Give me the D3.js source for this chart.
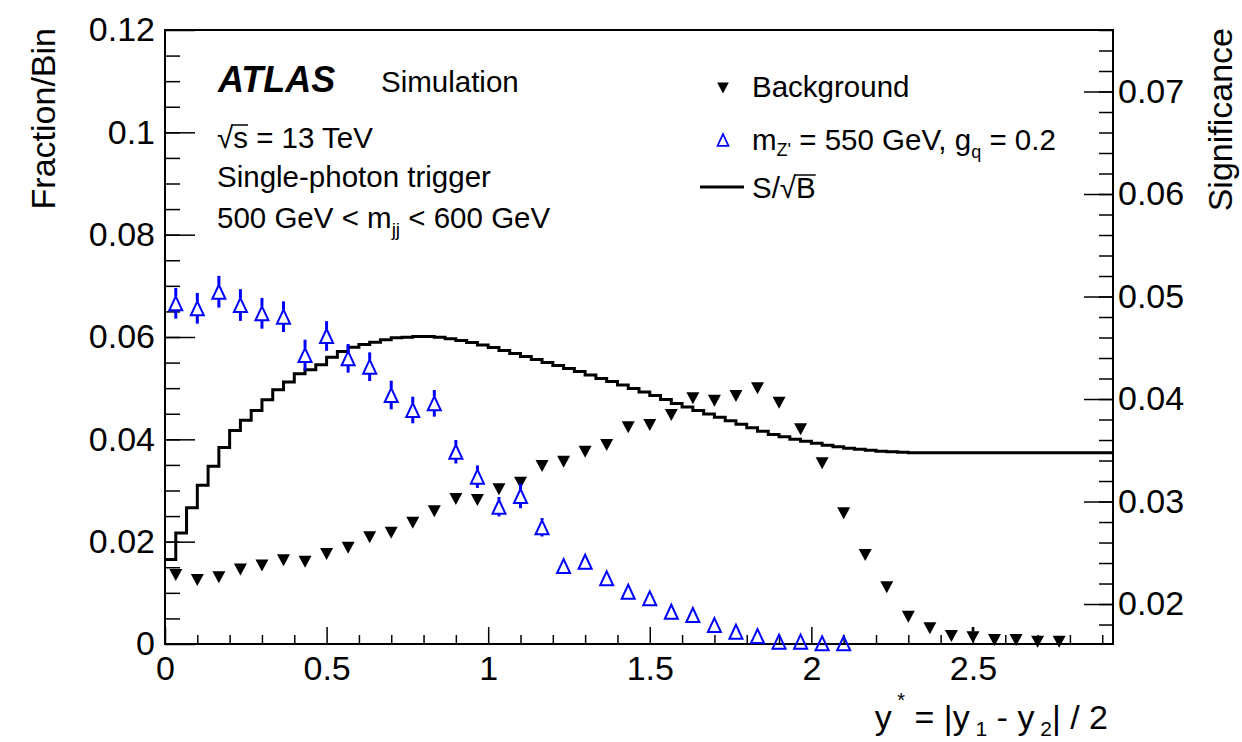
<!DOCTYPE html>
<html>
<head>
<meta charset="utf-8">
<script src="https://cdn.jsdelivr.net/npm/d3@7"></script>
<style>
  body { margin: 0; background: #fff; }
  svg { display: block; font-family: "Liberation Sans", Arial, Helvetica, sans-serif; }
</style>
</head>
<body>
<svg id="chart" width="1242" height="742"></svg>
<script>
// bin width of the markers (44 bins of 1/15 over 0 .. 2.933)
const binW = 1 / 15;
const nBins = 44;
// S/sqrt(B) histogram uses finer bins
const ssbBinW = 1 / 30;

// background fraction per bin (filled down triangles)
const bkgVals = [
  0.01349, 0.01251, 0.01303, 0.01456, 0.01534, 0.01636, 0.01609, 0.01759, 0.0188, 0.02085,
  0.02175, 0.02369, 0.02594, 0.02834, 0.02814, 0.03023, 0.03153, 0.03479, 0.03563, 0.03758,
  0.03889, 0.04235, 0.0428, 0.04476, 0.04802, 0.04755, 0.04847, 0.04997, 0.04716, 0.04196,
  0.03531, 0.02554, 0.01739, 0.01108, 0.00534, 0.00307, 0.00156, 0.00131, 0.00078, 0.00078,
  0.00045, 0.00045
];
const bkgErr = [
  0.0003, 0.0003, 0.0003, 0.0003, 0.0003, 0.0003, 0.0003, 0.0003, 0.0003, 0.0003,
  0.0003, 0.0003, 0.0003, 0.0003, 0.0003, 0.0003, 0.0003, 0.0003, 0.0003, 0.0003,
  0.0003, 0.0003, 0.0003, 0.0003, 0.0003, 0.0003, 0.0003, 0.0003, 0.0003, 0.0003,
  0.0003, 0.0003, 0.0003, 0.0003, 0.0003, 0.0003, 0.0003, 0.002, 0.0003, 0.0003,
  0.0003, 0.0003
];

// signal m_Z' = 550 GeV (open blue up triangles)
const sigVals = [
  0.06659, 0.06561, 0.06885, 0.06625, 0.06463, 0.06397, 0.05648, 0.0602, 0.05584, 0.0542,
  0.04866, 0.04573, 0.04704, 0.03758, 0.0327, 0.02683, 0.02893, 0.02281, 0.01524, 0.01608,
  0.01284, 0.01022, 0.00893, 0.00631, 0.00567, 0.00371, 0.0024, 0.00156, 0.00045, 0.00045,
  0.00014, 0.00014
];
const sigErr = [
  0.003, 0.003, 0.0031, 0.0031, 0.003, 0.003, 0.003, 0.0029, 0.0028, 0.0028,
  0.0028, 0.0026, 0.0026, 0.0023, 0.0022, 0.0019, 0.0024, 0.0018, 0.0009, 0.0009,
  0.0007, 0.0006, 0.0006, 0.0005, 0.0005, 0.0004, 0.0003, 0.0003, 0.0002, 0.0002,
  0.0001, 0.0001
];

// S/sqrt(B) significance, right axis, 88 bins
const ssbVals = [
  0.02435, 0.02694, 0.02938, 0.03159, 0.03344, 0.03526, 0.03694, 0.03792, 0.03889, 0.03993,
  0.04091, 0.04165, 0.04246, 0.04285, 0.04334, 0.04408, 0.04464, 0.04505, 0.04532, 0.04554,
  0.04577, 0.04597, 0.04603, 0.0461, 0.0461, 0.04603, 0.04587, 0.04571,
  0.04551, 0.04527, 0.04502, 0.04473, 0.04444, 0.04415, 0.04386, 0.04356, 0.04327, 0.04298,
  0.04269, 0.04235, 0.04201, 0.04171, 0.04137, 0.04103, 0.04069, 0.04035, 0.03996, 0.03957,
  0.03923, 0.03889, 0.03855, 0.03821, 0.03787, 0.03753, 0.03719, 0.03685, 0.03655, 0.03631,
  0.03607, 0.03587, 0.03568, 0.03548, 0.03534, 0.03519, 0.03509, 0.035, 0.0349, 0.03485, 0.0348,
  0.03477, 0.03477, 0.03477, 0.03477, 0.03477, 0.03477, 0.03477, 0.03477, 0.03477, 0.03477,
  0.03477, 0.03477, 0.03477, 0.03477, 0.03477, 0.03477, 0.03477, 0.03477, 0.03477
];

// axis ticks
const xMajor = [0, 0.5, 1, 1.5, 2, 2.5];
const xLabels = ["0", "0.5", "1", "1.5", "2", "2.5"];
const yLMajor = [0, 0.02, 0.04, 0.06, 0.08, 0.1, 0.12];
const yLLabels = ["0", "0.02", "0.04", "0.06", "0.08", "0.1", "0.12"];
const yRMajor = [0.02, 0.03, 0.04, 0.05, 0.06, 0.07];
const yRLabels = ["0.02", "0.03", "0.04", "0.05", "0.06", "0.07"];

const padL = 165, padR = 1113, padT = 30, padB = 644;
const svg = d3.select("#chart");

const x = d3.scaleLinear().domain([0, nBins * binW]).range([padL, padR]);
const yL = d3.scaleLinear().domain([0, 0.12]).range([padB, padT]);
const yR = d3.scaleLinear().domain([0.0161, 0.076]).range([padB, padT]);

const tickFont = 34;

// --- axes (ticks point inward) ---
function styleAxis(g) {
  g.select(".domain").remove();
  g.selectAll("line").attr("stroke", "#000").attr("stroke-width", 1.5);
  g.selectAll("text").attr("font-size", tickFont).attr("fill", "#000")
    .attr("font-family", "Liberation Sans, Arial, sans-serif");
}

// x axis
svg.append("g").attr("transform", `translate(0,${padB})`)
  .call(d3.axisBottom(x).tickValues(d3.range(0.1, 2.95, 0.1).filter(v => Math.abs(v * 2 - Math.round(v * 2)) > 1e-6))
    .tickSize(-9).tickFormat(""))
  .call(styleAxis);
svg.append("g").attr("transform", `translate(0,${padB})`)
  .call(d3.axisBottom(x).tickValues(xMajor).tickSize(-17).tickPadding(12)
    .tickFormat((d, i) => xLabels[i]))
  .call(styleAxis);

// left y axis
svg.append("g").attr("transform", `translate(${padL},0)`)
  .call(d3.axisLeft(yL).tickValues(d3.range(0.005, 0.12, 0.005)).tickSize(-15).tickFormat(""))
  .call(styleAxis);
svg.append("g").attr("transform", `translate(${padL},0)`)
  .call(d3.axisLeft(yL).tickValues(yLMajor).tickSize(-30).tickPadding(10)
    .tickFormat((d, i) => yLLabels[i]))
  .call(styleAxis);

// right y axis
svg.append("g").attr("transform", `translate(${padR},0)`)
  .call(d3.axisRight(yR).tickValues(d3.range(0.018, 0.0765, 0.002)).tickSize(-14).tickFormat(""))
  .call(styleAxis);
svg.append("g").attr("transform", `translate(${padR},0)`)
  .call(d3.axisRight(yR).tickValues(yRMajor).tickSize(-29).tickPadding(5)
    .tickFormat((d, i) => yRLabels[i]))
  .call(styleAxis);

// frame
svg.append("rect")
  .attr("x", padL).attr("y", padT)
  .attr("width", padR - padL).attr("height", padB - padT)
  .attr("fill", "none").attr("stroke", "#000").attr("stroke-width", 2);

// --- S/sqrt(B) step histogram ---
const ssbPts = ssbVals.map((v, i) => [i * ssbBinW, v]);
ssbPts.push([ssbVals.length * ssbBinW, ssbVals[ssbVals.length - 1]]);
const stepLine = d3.line()
  .x(d => x(d[0]))
  .y(d => yR(d[1]))
  .curve(d3.curveStepAfter);
svg.append("path")
  .attr("d", stepLine(ssbPts))
  .attr("fill", "none")
  .attr("stroke", "#000")
  .attr("stroke-width", 3);

// marker shapes
const mw = 13, mh = 12;
const downTri = `M${-mw / 2},${-mh / 2}L${mw / 2},${-mh / 2}L0,${mh / 2}Z`;
const upTri = `M${-mw / 2},${mh / 2 + 1}L${mw / 2},${mh / 2 + 1}L0,${-mh / 2 - 1}Z`;

// --- background points ---
const bkg = svg.append("g");
bkgVals.forEach((v, i) => {
  const cx = x((i + 0.5) * binW), cy = yL(v);
  const hi = yL(v + bkgErr[i]);
  if (cy - hi > mh / 2) {
    bkg.append("line").attr("x1", cx).attr("x2", cx).attr("y1", hi).attr("y2", cy - mh / 2)
      .attr("stroke", "#000").attr("stroke-width", 2.5);
  }
  bkg.append("path").attr("d", downTri).attr("transform", `translate(${cx},${cy})`).attr("fill", "#000");
});

// --- signal points ---
const sig = svg.append("g");
sigVals.forEach((v, i) => {
  const cx = x((i + 0.5) * binW), cy = yL(v);
  const hi = yL(v + sigErr[i]), lo = yL(Math.max(0, v - sigErr[i]));
  const half = mh / 2 + 1;
  if (cy - hi > half) {
    sig.append("line").attr("x1", cx).attr("x2", cx).attr("y1", hi).attr("y2", cy - half)
      .attr("stroke", "#0000ff").attr("stroke-width", 3);
  }
  if (lo - cy > half) {
    sig.append("line").attr("x1", cx).attr("x2", cx).attr("y1", cy + half).attr("y2", lo)
      .attr("stroke", "#0000ff").attr("stroke-width", 3);
  }
  sig.append("path").attr("d", upTri).attr("transform", `translate(${cx},${cy})`)
    .attr("fill", "none").attr("stroke", "#0000ff").attr("stroke-width", 2);
});

// --- labels ---
svg.append("text").attr("x", 218).attr("y", 92)
  .attr("font-size", 36).attr("font-weight", "bold").attr("font-style", "italic")
  .text("ATLAS");
svg.append("text").attr("x", 381).attr("y", 92).attr("font-size", 29.5).text("Simulation");

const txtSize = 29.5;
const sqrtS = svg.append("text").attr("x", 217).attr("y", 148).attr("font-size", txtSize)
  .text("√s = 13 TeV");
svg.append("text").attr("x", 217).attr("y", 187).attr("font-size", txtSize).text("Single-photon trigger");
const mjj = svg.append("text").attr("x", 217).attr("y", 228).attr("font-size", txtSize);
mjj.append("tspan").text("500 GeV < m");
mjj.append("tspan").attr("dy", 8).attr("font-size", 19).text("jj");
mjj.append("tspan").attr("dy", -8).text(" < 600 GeV");

// overline for sqrt
function overline(textSel, charIdx, baseY) {
  const node = textSel.node();
  const r0 = node.getExtentOfChar(charIdx - 1);
  const r1 = node.getExtentOfChar(charIdx);
  svg.append("line")
    .attr("x1", r0.x + r0.width - 2).attr("x2", r1.x + r1.width)
    .attr("y1", baseY - 23).attr("y2", baseY - 23)
    .attr("stroke", "#000").attr("stroke-width", 1.5);
}
overline(sqrtS, 1, 148);

// legend
const lx = 723, ltx = 752;
svg.append("path").attr("d", downTri).attr("transform", `translate(${lx},88) scale(0.9)`).attr("fill", "#000");
svg.append("text").attr("x", ltx).attr("y", 97).attr("font-size", txtSize).text("Background");

svg.append("path").attr("d", upTri).attr("transform", `translate(${lx},140) scale(0.85)`)
  .attr("fill", "none").attr("stroke", "#0000ff").attr("stroke-width", 2);
const sigLab = svg.append("text").attr("x", ltx).attr("y", 150).attr("font-size", txtSize);
sigLab.append("tspan").text("m");
sigLab.append("tspan").attr("dy", 6).attr("font-size", 18).text("Z'");
sigLab.append("tspan").attr("dy", -6).text(" = 550 GeV, g");
sigLab.append("tspan").attr("dy", 8).attr("font-size", 18).text("q");
sigLab.append("tspan").attr("dy", -8).text(" = 0.2");

svg.append("line").attr("x1", 700).attr("x2", 744).attr("y1", 187).attr("y2", 187)
  .attr("stroke", "#000").attr("stroke-width", 3);
const ssbLab = svg.append("text").attr("x", ltx).attr("y", 198).attr("font-size", txtSize).text("S/√B");
overline(ssbLab, 3, 198);

// axis titles
const xt = svg.append("text").attr("x", 1108).attr("y", 729).attr("font-size", tickFont)
  .attr("text-anchor", "end");
xt.append("tspan").text("y");
xt.append("tspan").attr("dy", -22).attr("font-size", 20).text(" *");
xt.append("tspan").attr("dy", 22).text("  = |y");
xt.append("tspan").attr("dy", 7).attr("font-size", 21).text(" 1");
xt.append("tspan").attr("dy", -7).text(" - y");
xt.append("tspan").attr("dy", 7).attr("font-size", 21).text(" 2");
xt.append("tspan").attr("dy", -7).text("| / 2");

svg.append("text").attr("transform", "translate(55,28) rotate(-90)")
  .attr("text-anchor", "end").attr("font-size", tickFont).text("Fraction/Bin");
svg.append("text").attr("transform", "translate(1232,28) rotate(-90)")
  .attr("text-anchor", "end").attr("font-size", tickFont).text("Significance");
</script>
</body>
</html>
